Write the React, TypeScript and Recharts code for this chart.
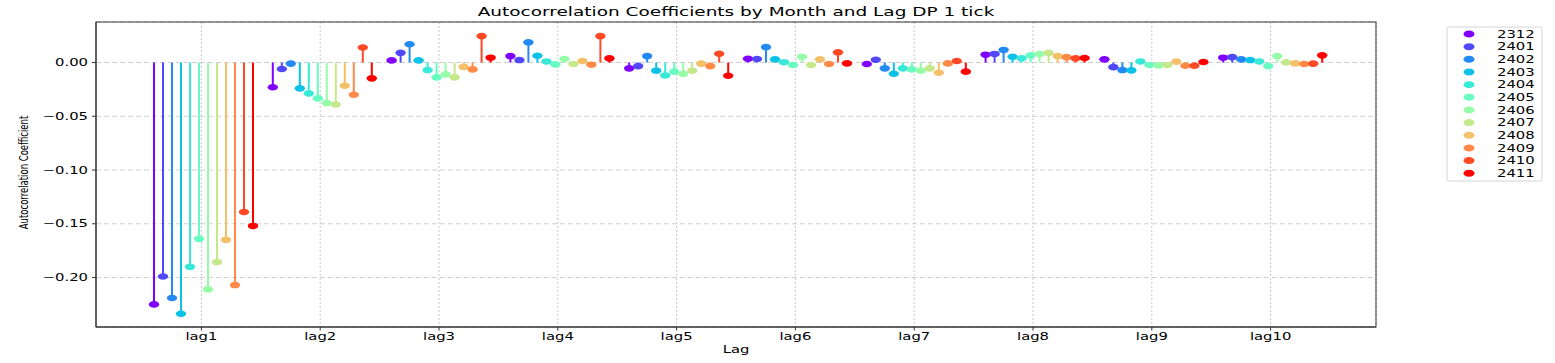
import { Bar, BarChart, CartesianGrid, XAxis, YAxis } from "recharts";

const lags = ["lag1", "lag2", "lag3", "lag4", "lag5", "lag6", "lag7", "lag8", "lag9", "lag10"];
const months = ["2312", "2401", "2402", "2403", "2404", "2405", "2406", "2407", "2408", "2409", "2410", "2411"];

// values per month, lag1..lag10
const m2312 = [-0.225, -0.023, 0.002, 0.006, -0.0054, 0.0035, -0.0014, 0.0073, 0.003, 0.0045];
const m2401 = [-0.199, -0.006, 0.009, 0.0023, -0.0033, 0.0033, 0.0026, 0.008, -0.0043, 0.005];
const m2402 = [-0.219, -0.001, 0.017, 0.0188, 0.006, 0.0144, -0.0054, 0.0117, -0.007, 0.003];
const m2403 = [-0.2337, -0.024, 0.002, 0.0063, -0.0076, 0.003, -0.0104, 0.0054, -0.0073, 0.0023];
const m2404 = [-0.19, -0.0287, -0.007, 0.001, -0.012, 0.0003, -0.0054, 0.0039, 0.001, 0.001];
const m2405 = [-0.164, -0.0333, -0.0138, -0.0017, -0.0085, -0.0023, -0.0064, 0.0067, -0.0023, -0.0033];
const m2406 = [-0.211, -0.0377, -0.011, 0.0033, -0.0107, 0.0054, -0.0076, 0.008, -0.0026, 0.006];
const m2407 = [-0.1856, -0.039, -0.0138, -0.0014, -0.0076, -0.0023, -0.0054, 0.009, -0.0023, 0.0002];
const m2408 = [-0.165, -0.0216, -0.004, 0.0014, -0.001, 0.003, -0.0095, 0.006, 0.0008, -0.0008];
const m2409 = [-0.207, -0.03, -0.0064, -0.002, -0.0033, -0.0014, -0.0008, 0.0051, -0.003, -0.0014];
const m2410 = [-0.139, 0.014, 0.0246, 0.0246, 0.0082, 0.0095, 0.0014, 0.0039, -0.003, -0.001];
const m2411 = [-0.152, -0.0147, 0.0045, 0.0039, -0.0123, -0.0008, -0.0085, 0.0042, 0.0005, 0.0067];

const series = [m2312, m2401, m2402, m2403, m2404, m2405, m2406, m2407, m2408, m2409, m2410, m2411];

// matplotlib "rainbow", 12 steps
const colors = [
	"#8000ff", "#5148fc", "#238af5", "#0cc1e8", "#3ae8d7", "#68fcc1",
	"#97fca7", "#c5e88a", "#f3c16a", "#ff8a48", "#ff4824", "#ff0000",
];

const yTicks = [-0.2, -0.15, -0.1, -0.05, 0];

const data = lags.map((lag, i) => {
	const row: Record<string, any> = { lag };
	months.forEach((m, j) => {
		row[m] = series[j][i];
	});
	return row;
});

const W = 1555;
const H = 363;
const PL = 96;
const PT = 22;
const PR = 1376;
const PB = 327;
const SX = 1.48; // the figure is stretched sideways
const FONT = "DejaVu Sans, sans-serif";

const fmt = (v: number) => (v < 0 ? "\u2212" : "") + Math.abs(v).toFixed(2);

function StretchText({ x, y, anchor = "middle", size = 10, rotate = 0, children }: any) {
	return (
		<text
			transform={`translate(${x},${y}) scale(${SX},1)${rotate ? ` rotate(${rotate})` : ""}`}
			textAnchor={anchor}
			fontSize={size}
			fontFamily={FONT}
			fill="#000"
		>
			{children}
		</text>
	);
}

const XTick = ({ x, y, payload }: any) => (
	<StretchText x={x} y={y + 7}>
		{payload.value}
	</StretchText>
);

const YTick = ({ x, y, payload }: any) => (
	<StretchText x={x} y={y + 3.5} anchor="end">
		{fmt(payload.value)}
	</StretchText>
);

const stemShape = (key: string, color: string) => (props: any) => {
	const { x, y, width, height, payload } = props;
	const v = payload[key];
	const cx = x + width / 2;
	const a = y;
	const b = y + height;
	const vy = v >= 0 ? Math.min(a, b) : Math.max(a, b);
	const zy = v >= 0 ? Math.max(a, b) : Math.min(a, b);
	return (
		<g>
			<line x1={cx} x2={cx} y1={zy} y2={vy} stroke={color} strokeWidth={2} />
			<ellipse cx={cx} cy={vy} rx={5.2} ry={3.3} fill={color} />
		</g>
	);
};

export default function App() {
	return (
		<div style={{ position: "absolute", left: 0, top: 0, width: W, height: H, background: "#fff" }}>
			<BarChart
				width={W}
				height={H}
				data={data}
				margin={{ top: PT, right: W - PR, bottom: 0, left: 0 }}
				barCategoryGap={7.5}
				barGap={0}
			>
				<CartesianGrid horizontal={true} vertical={false} stroke="#d0d0d0" strokeDasharray="5 3" />
				<CartesianGrid horizontal={false} vertical={true} stroke="#c8c8c8" strokeDasharray="2 2" />
				<XAxis
					dataKey="lag"
					height={H - PB}
					padding={{ left: 46, right: 46 }}
					tick={<XTick />}
					tickSize={3.5}
					tickMargin={2.5}
					stroke="#333"
					interval={0}
				/>
				<YAxis
					type="number"
					domain={[-0.246, 0.0377]}
					allowDataOverflow
					ticks={yTicks}
					width={PL}
					tick={<YTick />}
					tickSize={4}
					tickMargin={4}
					stroke="#333"
				/>
				{months.map((m, j) => (
					<Bar
						key={m}
						dataKey={m}
						fill={colors[j]}
						isAnimationActive={false}
						shape={stemShape(m, colors[j])}
					/>
				))}
			</BarChart>
			<svg
				width={W}
				height={H}
				style={{ position: "absolute", left: 0, top: 0, pointerEvents: "none" }}
			>
				<rect x={PL} y={PT} width={PR - PL} height={PB - PT} fill="none" stroke="#333" strokeWidth={1} />
				<StretchText x={(PL + PR) / 2} y={16} size={12.5}>
					Autocorrelation Coefficients by Month and Lag DP 1 tick
				</StretchText>
				<StretchText x={(PL + PR) / 2} y={353} size={10}>
					Lag
				</StretchText>
				<text
					transform={`translate(28,${(PT + PB) / 2 - 2}) scale(${SX},1) rotate(-90)`}
					textAnchor="middle"
					fontSize={8.5}
					fontFamily={FONT}
				>
					Autocorrelation Coefficient
				</text>
				<rect x={1447} y={27} width={95} height={154} rx={2} fill="#fff" stroke="#d4d4d4" />
				{months.map((m, j) => (
					<g key={m}>
						<ellipse cx={1469} cy={34 + j * 12.66} rx={5.5} ry={3.5} fill={colors[j]} />
						<StretchText x={1497} y={34 + j * 12.66 + 3.6} anchor="start">
							{m}
						</StretchText>
					</g>
				))}
			</svg>
		</div>
	);
}
